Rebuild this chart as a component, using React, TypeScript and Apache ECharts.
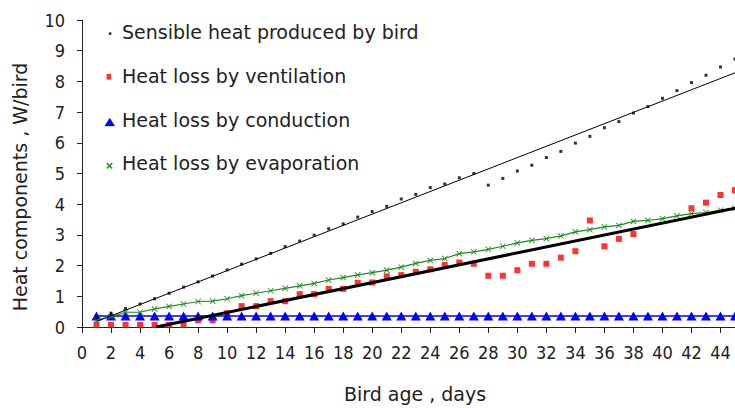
import React, { useEffect, useRef } from "react";
import * as echarts from "echarts";

// ---- data ----
const days = [1, 2, 3, 4, 5, 6, 7, 8, 9, 10, 11, 12, 13, 14, 15, 16, 17, 18, 19, 20, 21, 22, 23, 24, 25, 26, 27, 28, 29, 30, 31, 32, 33, 34, 35, 36, 37, 38, 39, 40, 41, 42, 43, 44, 45];

const sensibleHeat = [0.3, 0.45, 0.6, 0.75, 0.92, 1.1, 1.3, 1.47, 1.66, 1.86, 2.05, 2.22, 2.4, 2.62, 2.8, 2.99, 3.2, 3.36, 3.58, 3.76, 3.93, 4.17, 4.32, 4.54, 4.66, 4.86, 5.0, 4.62, 4.84, 5.08, 5.27, 5.52, 5.72, 5.99, 6.21, 6.49, 6.69, 6.97, 7.18, 7.45, 7.7, 7.96, 8.2, 8.47, 8.73];

const ventilationLoss: (number | null)[] = [0.07, 0.07, 0.07, 0.07, 0.07, 0.07, 0.07, 0.22, 0.22, 0.45, 0.68, 0.68, 0.84, 0.84, 1.07, 1.07, 1.24, 1.24, 1.44, 1.45, 1.65, 1.69, 1.8, 1.88, 2.02, 2.1, 2.06, 1.67, 1.67, 1.85, 2.06, 2.06, 2.26, 2.47, 3.47, 2.63, 2.87, 3.03, null, null, null, 3.87, 4.05, 4.3, 4.46];

const conductionLoss = [0.36, 0.36, 0.36, 0.36, 0.36, 0.36, 0.36, 0.36, 0.36, 0.36, 0.36, 0.36, 0.36, 0.36, 0.36, 0.36, 0.36, 0.36, 0.36, 0.36, 0.36, 0.36, 0.36, 0.36, 0.36, 0.36, 0.36, 0.36, 0.36, 0.36, 0.36, 0.36, 0.36, 0.36, 0.36, 0.36, 0.36, 0.36, 0.36, 0.36, 0.36, 0.36, 0.36, 0.36, 0.36];

const evaporationLoss = [0.22, 0.34, 0.48, 0.48, 0.59, 0.67, 0.75, 0.83, 0.84, 0.92, 1.02, 1.1, 1.18, 1.26, 1.34, 1.42, 1.53, 1.61, 1.7, 1.77, 1.85, 1.95, 2.07, 2.17, 2.23, 2.39, 2.45, 2.53, 2.63, 2.74, 2.82, 2.88, 2.97, 3.1, 3.17, 3.26, 3.31, 3.44, 3.47, 3.53, 3.62, 3.69, 3.73, 3.8, 3.87];

// linear trend lines (end points)
const sensibleTrendX = [1, 45];
const sensibleTrendY = [0.18, 8.28];
const ventilationTrendX = [5.1, 45];
const ventilationTrendY = [0, 3.87];

const seriesNames = [
  "Sensible heat produced by bird",
  "Heat loss by ventilation",
  "Heat loss by conduction",
  "Heat loss by evaporation",
];

const xAxisTitle = "Bird age , days";
const yAxisTitle = "Heat components , W/bird";

const pair = (xs: number[], ys: (number | null)[]) =>
  xs.map((x, i) => [x, ys[i]]).filter((p) => p[1] !== null);

const svgIcon = (inner: string) =>
  "image://data:image/svg+xml;charset=utf-8," +
  encodeURIComponent(
    `<svg xmlns="http://www.w3.org/2000/svg" width="14" height="14" viewBox="0 0 14 14">${inner}</svg>`
  );

const TEXT_FONT = "'DejaVu Sans', Verdana, sans-serif";
const TICK_FONT = "'Liberation Sans Narrow', 'Arial Narrow', 'DejaVu Sans Condensed', sans-serif";
const GREEN = "#1f8a1f";
const X_SYMBOL = "path://M0,1L1,0L5,4L9,0L10,1L6,5L10,9L9,10L5,6L1,10L0,9L4,5Z";

export default function App() {
  const ref = useRef<HTMLDivElement>(null);

  useEffect(() => {
    if (!ref.current) return;
    const chart = echarts.init(ref.current, undefined, { renderer: "svg" });

    const legendBase = {
      orient: "vertical",
      padding: 0,
      itemWidth: 14,
      itemHeight: 14,
      selectedMode: false,
      left: 103,
      textStyle: { fontSize: 19, fontFamily: TEXT_FONT, color: "#222" },
    };

    const option: any = {
      animation: false,
      backgroundColor: "#ffffff",
      grid: { left: 82, right: 0, top: 20, bottom: 78, containLabel: false },
      legend: [
        {
          ...legendBase,
          top: 22,
          data: [{ name: seriesNames[0], icon: svgIcon('<rect x="5.8" y="7.8" width="2.6" height="2.6" fill="#000"/>') }],
        },
        {
          ...legendBase,
          top: 66,
          data: [{ name: seriesNames[1], icon: svgIcon('<rect x="3.5" y="5.5" width="4.6" height="5.6" fill="#ff0000"/>') }],
        },
        {
          ...legendBase,
          top: 110,
          data: [{ name: seriesNames[2], icon: svgIcon('<polygon points="1.5,13.75 12,13.75 6.75,5.25" fill="#0000ff"/>') }],
        },
        {
          ...legendBase,
          top: 153,
          data: [{ name: seriesNames[3], icon: svgIcon(`<path d="M3.8,7.5L9.2,12.9M9.2,7.5L3.8,12.9" stroke="${GREEN}" stroke-width="1.4" fill="none"/>`) }],
        },
      ],
      xAxis: {
        type: "value",
        min: 0,
        max: 45,
        interval: 2,
        name: xAxisTitle,
        nameLocation: "middle",
        nameGap: 57,
        nameTextStyle: { fontSize: 19, fontFamily: TEXT_FONT, color: "#222", padding: [0, 0, 0, 13] },
        axisLine: { show: true, lineStyle: { color: "#222", width: 1 } },
        axisTick: { show: true, inside: false, length: 6, lineStyle: { color: "#222" } },
        axisLabel: { fontSize: 18, fontFamily: TICK_FONT, color: "#222", margin: 16, showMaxLabel: false },
        splitLine: { show: false },
      },
      yAxis: {
        type: "value",
        min: 0,
        max: 10,
        interval: 1,
        axisLine: { show: true, lineStyle: { color: "#222", width: 1 } },
        axisTick: { show: true, inside: false, length: 5, lineStyle: { color: "#222" } },
        axisLabel: { fontSize: 18, fontFamily: TICK_FONT, color: "#222", margin: 17 },
        splitLine: { show: false },
      },
      graphic: [
        {
          type: "text",
          x: 20,
          y: 187,
          rotation: Math.PI / 2,
          style: {
            text: yAxisTitle,
            fontSize: 19,
            fontFamily: TEXT_FONT,
            fill: "#222",
            textAlign: "center",
            textVerticalAlign: "middle",
          },
        },
      ],
      series: [
        {
          name: seriesNames[1],
          type: "scatter",
          symbol: "rect",
          symbolSize: [6, 6],
          itemStyle: { color: "#ff0000" },
          data: pair(days, ventilationLoss),
          z: 2,
        },
        {
          name: seriesNames[2],
          type: "line",
          symbol: "triangle",
          symbolSize: [10, 9],
          showSymbol: true,
          itemStyle: { color: "#0000ff" },
          lineStyle: { color: "#0000ff", width: 1.5 },
          data: pair(days, conductionLoss),
          z: 3,
        },
        {
          name: seriesNames[3],
          type: "line",
          symbol: X_SYMBOL,
          symbolSize: 6,
          showSymbol: true,
          itemStyle: { color: GREEN },
          lineStyle: { color: GREEN, width: 1.2 },
          data: pair(days, evaporationLoss),
          z: 4,
        },
        {
          name: seriesNames[0],
          type: "scatter",
          symbol: "rect",
          symbolSize: 3,
          itemStyle: { color: "#000" },
          data: pair(days, sensibleHeat),
          z: 5,
        },
        {
          name: "Sensible heat trend",
          type: "line",
          symbol: "none",
          lineStyle: { color: "#000", width: 1 },
          data: pair(sensibleTrendX, sensibleTrendY),
          z: 6,
        },
        {
          name: "Ventilation trend",
          type: "line",
          symbol: "none",
          lineStyle: { color: "#000", width: 3 },
          data: pair(ventilationTrendX, ventilationTrendY),
          z: 6,
        },
      ],
    };

    chart.setOption(option);
    return () => {
      chart.dispose();
    };
  }, []);

  return (
    <div
      ref={ref}
      style={{ position: "fixed", left: 0, top: 0, width: 735, height: 408, background: "#fff" }}
    />
  );
}
